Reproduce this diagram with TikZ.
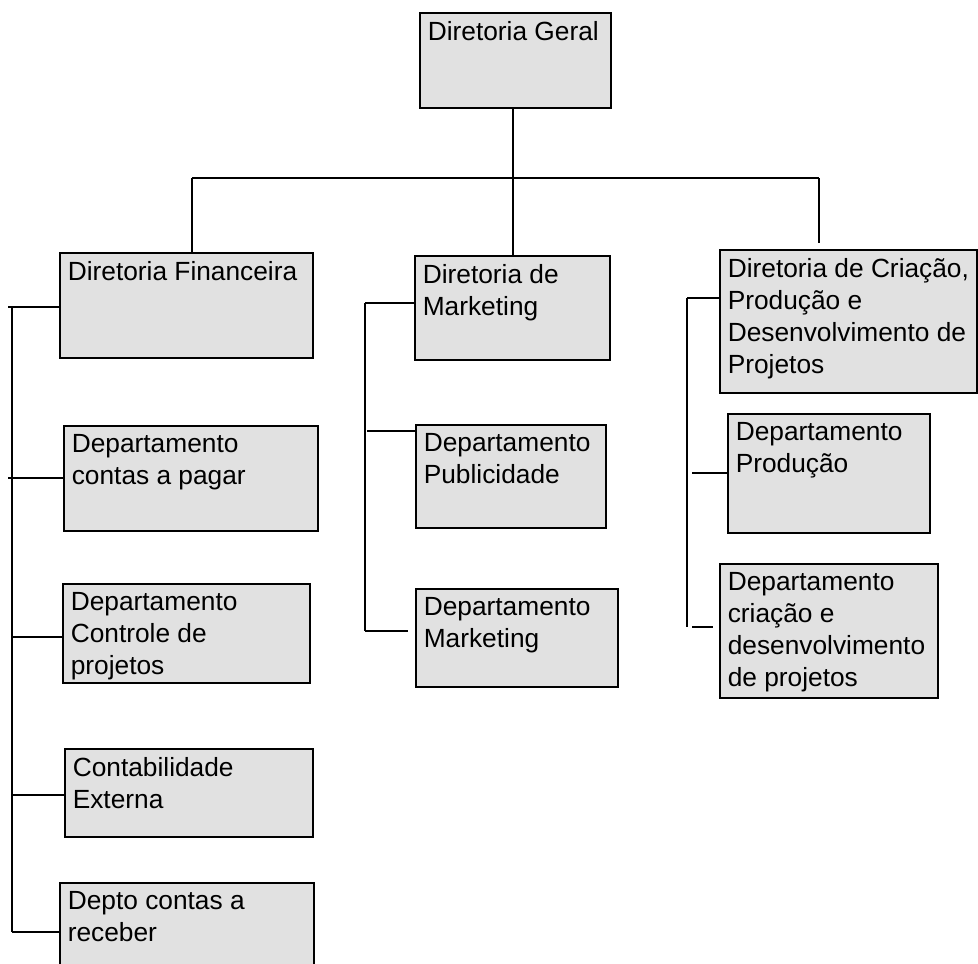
\documentclass[tikz,border=0pt]{standalone}
\usepackage{fontspec}
\setmainfont{Liberation Sans}
\definecolor{boxgray}{RGB}{225,225,225}

\begin{document}
\begin{tikzpicture}[x=1pt,y=-1pt,line width=1.6pt,
	unit/.style={draw,fill=boxgray,rectangle,anchor=north west,inner sep=0pt,line width=1.7pt},
	unittext/.style={anchor=north west,align=left,inner xsep=8pt,inner ysep=9pt,font=\fontsize{26.3}{32}\selectfont}]

\useasboundingbox (0,0) rectangle (978,964);
\clip (0,0) rectangle (978,964);

\foreach \n/\x/\y/\w/\h/\lbl in {
	ger/419/12/191/95/{Diretoria Geral},
	fin/59/252/253/105/{Diretoria Financeira},
	mkt/414/255/195/104/{Diretoria de\\Marketing},
	cri/719/249/257/143/{Diretoria de Criação,\\Produção e\\Desenvolvimento de\\Projetos},
	pag/63/425/254/105/{Departamento\\contas a pagar},
	ctl/62/583/247/99/{Departamento\\Controle de\\projetos},
	ext/64/748/248/88/{Contabilidade\\Externa},
	rec/59/882/254/100/{Depto contas a\\receber},
	pub/415/424/190/103/{Departamento\\Publicidade},
	dmk/415/588/202/98/{Departamento\\Marketing},
	pro/727/413/202/119/{Departamento\\Produção},
	dcr/719/563/218/134/{Departamento\\criação e\\desenvolvimento\\de projetos}} {
	\node [unit,minimum width=\w pt,minimum height=\h pt] (\n) at (\x,\y) {};
	\node [unittext] (\n-t) at (\n.north west) {\lbl};
}

\coordinate (busL) at (192,178);
\coordinate (busM) at (513,178);
\coordinate (busR) at (819,178);

\draw (busM |- ger.south) -- (busM |- mkt.north);
\draw (busL) -- (busR);
\draw (busL) -- (busL |- fin.north);
\draw (busR) -- ++(0,65);

\draw (12,307) -- (12,932);
\draw (8,307) -- (fin.west |- 0,307);
\draw (8,478) -- (pag.west |- 0,478);
\foreach \n/\y in {ctl/637,ext/795,rec/932} {
	\draw (12,\y) -- (\n.west |- 0,\y);
}

\draw (365,303) -- (365,631);
\draw (365,303) -- (mkt.west |- 0,303);
\draw (367,431) -- (pub.west |- 0,431);
\draw (365,631) -- ([xshift=-7pt]dmk.west |- 0,631);

\draw (687,298) -- (687,627);
\draw (687,298) -- (cri.west |- 0,298);
\draw (692,473) -- (pro.west |- 0,473);
\draw (692,627) -- ([xshift=-6pt]dcr.west |- 0,627);

\end{tikzpicture}
\end{document}
